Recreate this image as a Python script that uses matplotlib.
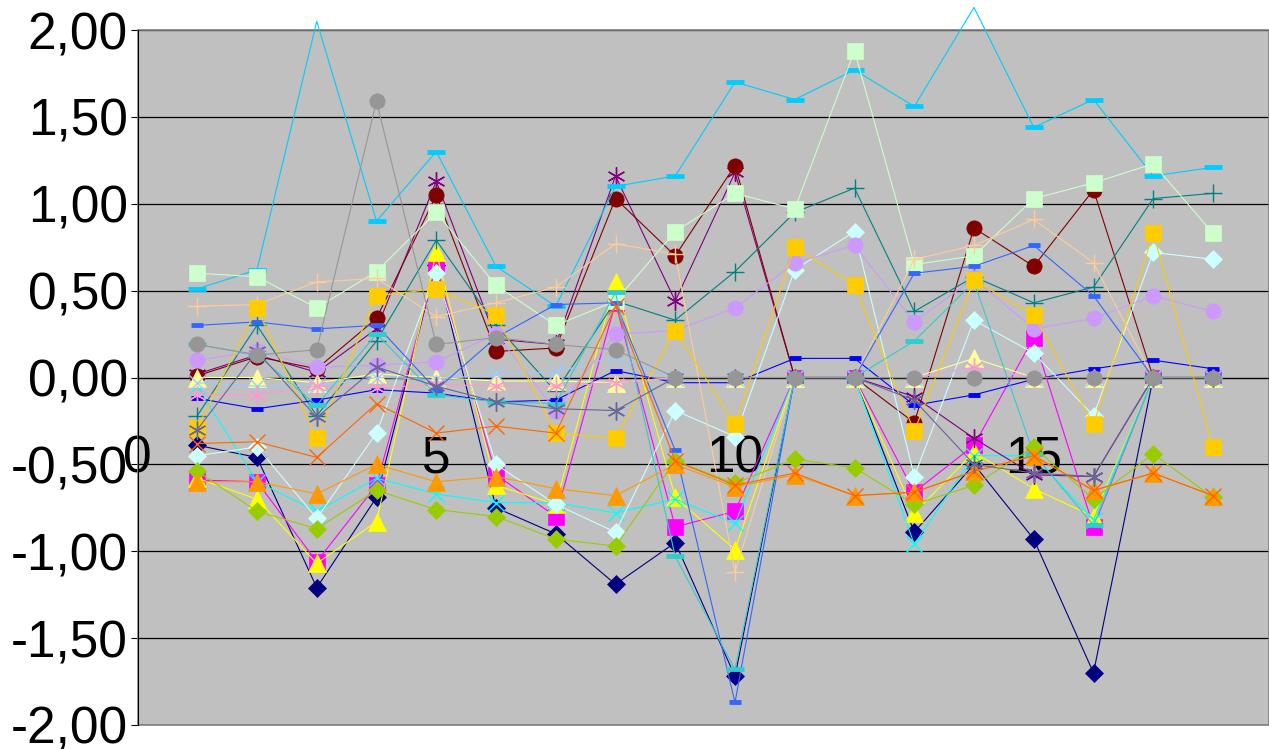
import numpy as np
import matplotlib.pyplot as plt
from matplotlib.patches import Rectangle

plt.rcParams['font.family'] = ['Liberation Sans', 'DejaVu Sans']

x = np.arange(1, 19)

s01 = [-0.39, -0.46, -1.21, -0.69, 0.65, -0.75, -0.90, -1.19, -0.95, -1.72, 0, 0, -0.89, -0.50, -0.93, -1.70, 0, 0]
s02 = [-0.59, -0.60, -1.06, -0.62, 0.64, -0.56, -0.80, 0.43, -0.86, -0.77, 0, 0, -0.66, -0.39, 0.23, -0.86, 0, 0]
s03 = [-0.58, -0.70, -1.07, -0.83, 0.72, -0.62, -0.73, 0.55, -0.69, -0.99, 0, 0, -0.78, -0.43, -0.64, -0.80, 0, 0]
s04 = [-0.05, -0.60, -0.77, -0.58, -0.67, -0.72, -0.72, -0.78, -0.70, -0.84, 0, 0, -0.96, -0.45, -0.45, -0.82, 0, 0]
s05 = [0.02, 0.13, 0.03, 0.28, 1.13, 0.22, 0.19, 1.16, 0.44, 1.18, 0, 0, -0.11, -0.35, -0.56, -0.57, 0, 0]
s06 = [0.01, 0.12, 0.05, 0.34, 1.05, 0.15, 0.17, 1.03, 0.70, 1.22, 0, 0, -0.26, 0.86, 0.64, 1.08, 0, 0]
s07 = [-0.22, 0.30, -0.22, 0.21, 0.79, 0.30, -0.08, 0.44, 0.33, 0.61, 0.95, 1.09, 0.38, 0.58, 0.43, 0.52, 1.03, 1.06]
s08 = [-0.12, -0.18, -0.13, -0.07, -0.09, -0.14, -0.13, 0.04, -0.03, -0.03, 0.11, 0.11, -0.16, -0.10, -0.01, 0.05, 0.10, 0.05]
s09 = [0.51, 0.62, 2.05, 0.90, 1.30, 0.64, 0.41, 1.10, 1.16, 1.70, 1.60, 1.77, 1.56, 2.13, 1.44, 1.60, 1.16, 1.21]
s10 = [-0.45, -0.40, -0.81, -0.32, 0.60, -0.50, -0.73, -0.89, -0.19, -0.34, 0.62, 0.84, -0.57, 0.33, 0.14, -0.22, 0.72, 0.68]
s11 = [0.60, 0.58, 0.40, 0.61, 0.95, 0.53, 0.30, 0.44, 0.84, 1.06, 0.97, 1.88, 0.65, 0.70, 1.03, 1.12, 1.23, 0.83]
s12 = [0, 0, -0.03, 0.02, 0, -0.02, -0.02, -0.03, 0, 0, 0, 0, 0, 0.11, 0, 0, 0, 0]
s13 = [-0.03, -0.05, -0.05, 0, -0.01, 0.02, 0.03, 0.12, 0, 0, 0, 0, 0, 0.05, 0, 0, 0, 0]
s14 = [-0.10, -0.10, -0.05, -0.06, -0.04, -0.05, -0.05, -0.03, 0, 0, 0, 0, 0, 0.06, 0, 0, 0, 0]
s15 = [0.10, 0.15, 0.06, 0.07, 0.09, 0.25, -0.19, 0.25, 0.27, 0.40, 0.66, 0.76, 0.32, 0.57, 0.28, 0.34, 0.47, 0.38]
s16 = [0.41, 0.42, 0.55, 0.57, 0.35, 0.43, 0.52, 0.77, 0.71, -1.12, 0, 0, 0.68, 0.76, 0.91, 0.66, 0, 0]
s17 = [0.30, 0.32, 0.28, 0.30, -0.07, 0.23, 0.42, 0.43, -0.42, -1.87, 0, 0, 0.60, 0.64, 0.76, 0.47, 0, 0]
s18 = [0.19, 0.13, -0.16, 0.25, -0.10, -0.14, -0.15, 0.49, -1.03, -1.68, 0, 0, 0.21, 0.55, -0.44, -0.85, 0, 0]
s19 = [-0.54, -0.77, -0.87, -0.65, -0.76, -0.80, -0.93, -0.97, -0.48, -0.61, -0.47, -0.52, -0.73, -0.62, -0.40, -0.70, -0.44, -0.69]
s20 = [-0.29, 0.40, -0.35, 0.47, 0.51, 0.36, -0.32, -0.35, 0.27, -0.27, 0.75, 0.53, -0.31, 0.56, 0.36, -0.27, 0.83, -0.40]
s21 = [-0.60, -0.60, -0.67, -0.50, -0.60, -0.57, -0.64, -0.68, -0.50, -0.63, -0.56, -0.68, -0.66, -0.54, -0.45, -0.65, -0.55, -0.68]
s22 = [-0.38, -0.37, -0.46, -0.15, -0.32, -0.28, -0.32, 0.41, -0.48, -0.62, -0.55, -0.68, -0.66, -0.54, -0.45, -0.65, -0.55, -0.68]
s23 = [-0.30, 0.15, -0.23, 0.06, -0.05, -0.14, -0.18, -0.19, 0, 0, 0, 0, -0.13, -0.50, -0.55, -0.57, 0, 0]
s24 = [0.19, 0.13, 0.16, 1.59, 0.19, 0.23, 0.19, 0.16, 0, 0, 0, 0, 0, 0, 0, 0, 0, 0]

series = [s01, s02, s03, s04, s05, s06, s07, s08, s09, s10, s11, s12,
          s13, s14, s15, s16, s17, s18, s19, s20, s21, s22, s23, s24]

colors = ['#000080', '#FF00FF', '#FFFF00', '#00FFFF', '#800080', '#800000',
          '#008080', '#0000FF', '#00CCFF', '#CCFFFF', '#CCFFCC', '#FFFF99',
          '#99CCFF', '#FF99CC', '#CC99FF', '#FFCC99', '#3366FF', '#33CCCC',
          '#99CC00', '#FFCC00', '#FF9900', '#FF6600', '#666699', '#969696']

star = (6, 2, 0)
# marker, size, edge width, filled -- cycles every 9 series
mstyle = [('D', 9.5, 0, True), ('s', 11, 0, True), ('^', 13, 0, True),
          ('x', 12, 1, False), (star, 13, 1, False), ('o', 11, 0, True),
          ('+', 13, 1, False), ('_', 8, 3.5, False), ('_', 13, 3.5, False)]

fig = plt.figure(figsize=(12.69, 7.49), dpi=100)
ax = fig.add_axes([137.5 / 1269, 24 / 749, 1 - 137.5 / 1269, 695 / 749])
ax.set_facecolor('#C0C0C0')

for i, (ys, c) in enumerate(zip(series, colors)):
    m, ms, mew, filled = mstyle[i % 9]
    # lines may run past the top edge, markers stay inside the plot area
    ax.plot(x, ys, color=c, lw=0.8, clip_on=False, zorder=3 + i)
    kw = dict(ls='none', marker=m, markersize=ms, zorder=3 + i)
    if filled:
        kw.update(markerfacecolor=c, markeredgecolor=c, markeredgewidth=0.5)
    else:
        kw.update(markeredgecolor=c, markeredgewidth=mew)
    ax.plot(x, ys, **kw)

ax.spines['bottom'].set_position(('data', 0))
ax.spines['bottom'].set_color('black')
ax.spines['bottom'].set_zorder(2)
ax.spines['top'].set_visible(False)
ax.spines['right'].set_visible(False)
ax.spines['left'].set_color('black')

ax.set_xlim(0, (1269 - 137.5) / 59.75)
ax.set_ylim(-2, 2)

yt = np.arange(-2, 2.01, 0.5)
ax.set_yticks(yt)
ax.set_yticklabels([f'{v:.2f}'.replace('.', ',') for v in yt])
ax.yaxis.grid(True, color='black', lw=0.9)
ax.set_axisbelow(True)

ax.set_xticks([0, 5, 10, 15])
ax.set_xticklabels(['0', '5', '10', '15'])
ax.tick_params(axis='x', direction='out', length=5, color='#404040', pad=36, labelsize=37)
ax.tick_params(axis='y', direction='out', length=5, color='black', pad=2, labelsize=37)

ax.add_patch(Rectangle((0, 0), 1, 1, transform=ax.transAxes, fill=False,
                       edgecolor='#808080', lw=1.2, zorder=1, clip_on=False))

fig.savefig('out.png', dpi=100)
